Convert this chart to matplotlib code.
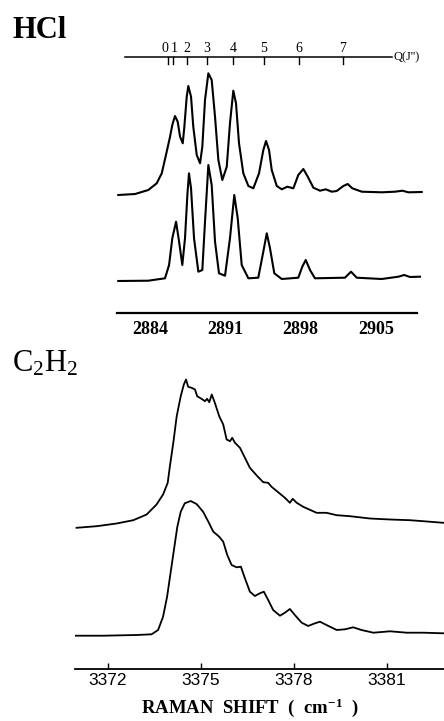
import numpy as np
import matplotlib
matplotlib.use("Agg")
import matplotlib.pyplot as plt

plt.rcParams['mathtext.default'] = 'regular'

# HCl Q-branch, Raman shift (cm-1) and intensity (arb. units)
hcl_top_x = [2881.05, 2882.61, 2883.84, 2884.62, 2885.09, 2885.55, 2885.86, 2886.07, 2886.32, 2886.57,
             2886.79, 2887.04, 2887.19, 2887.41, 2887.56, 2887.81, 2888.02, 2888.34, 2888.65, 2888.86,
             2889.11, 2889.42, 2889.73, 2890.04, 2890.35, 2890.72, 2891.13, 2891.43, 2891.74, 2891.99,
             2892.27, 2892.67, 2893.14, 2893.60, 2894.13, 2894.53, 2894.78, 2895.06, 2895.31, 2895.78,
             2896.24, 2896.76, 2897.32, 2897.78, 2898.25, 2898.66, 2899.18, 2899.80, 2900.33, 2900.89,
             2901.35, 2901.97, 2902.37, 2902.80, 2903.68, 2905.53, 2906.77, 2907.45, 2908.01, 2909.25]
hcl_top_y = [0, 1, 5, 11.7, 21.7, 43.3, 58.3, 70, 79, 73.3,
             58.3, 51.7, 68.3, 98.3, 109, 98.3, 68.3, 40, 31.7, 48.3,
             95, 121.7, 115, 78.3, 35, 15, 28.3, 71.7, 104.3, 91.7,
             51.7, 21.7, 9, 6.7, 21.7, 45, 54, 45, 25, 9,
             5.7, 8.3, 6.7, 20, 26, 18.3, 7.3, 4.3, 5.7, 3.3,
             4, 9, 11, 6.7, 3.3, 2.7, 3.3, 4.3, 2.7, 3]

hcl_bot_x = [2881.05, 2883.84, 2885.39, 2885.77, 2886.07, 2886.42, 2886.70, 2887.00, 2887.25, 2887.47,
             2887.62, 2887.81, 2888.09, 2888.49, 2888.86, 2889.11, 2889.42, 2889.73, 2890.04, 2890.41,
             2890.97, 2891.43, 2891.83, 2892.15, 2892.52, 2893.14, 2894.06, 2894.47, 2894.85, 2895.15,
             2895.55, 2896.24, 2897.78, 2898.15, 2898.47, 2898.87, 2899.33, 2902.12, 2902.68, 2903.21,
             2905.53, 2907.08, 2907.63, 2908.16, 2909.09]
hcl_bot_y = [0, 0.3, 2.7, 16, 42.7, 59.3, 39.3, 16, 42.7, 86,
             107.7, 92.7, 42.7, 9.3, 11, 59.3, 116, 96, 39.3, 7.7,
             5.3, 42.7, 86, 62.7, 16, 2.7, 3.3, 26, 47.7, 32.7,
             7.7, 2, 3.3, 14.3, 21, 11, 2.7, 3.3, 9.3, 3.3,
             2, 4.3, 6, 4, 4.3]

q_labels = ["0", "1", "2", "3", "4", "5", "6", "7"]
q_pos = [2885.67, 2886.14, 2887.44, 2889.30, 2891.71, 2894.59, 2897.85, 2901.94]
hcl_ticks = [2884, 2891, 2898, 2905]

# C2H2
c2h2_top_x = [3370.99, 3371.64, 3372.28, 3372.82, 3373.25, 3373.57, 3373.78, 3373.93, 3374.00, 3374.11,
              3374.22, 3374.35, 3374.45, 3374.52, 3374.59, 3374.70, 3374.81, 3374.88, 3375.02, 3375.13,
              3375.20, 3375.27, 3375.35, 3375.45, 3375.59, 3375.72, 3375.83, 3375.94, 3376.01, 3376.10,
              3376.26, 3376.42, 3376.58, 3376.80, 3377.01, 3377.17, 3377.28, 3377.49, 3377.71, 3377.87,
              3377.96, 3378.09, 3378.30, 3378.73, 3379.05, 3379.38, 3379.81, 3380.45, 3381.10, 3381.74,
              3382.17, 3382.82]
c2h2_top_y = [0.2, 1.8, 4.5, 7.8, 13.5, 23.5, 33.5, 45.2, 61.8, 85.2,
              111.8, 131.8, 143.5, 148.5, 141.2, 140.2, 138.5, 131.8, 129.2, 126.8,
              129.2, 125.8, 133.5, 125.2, 111.8, 103.5, 88.5, 86.8, 90.2, 85.2,
              80.2, 70.2, 60.2, 52.5, 45.8, 45.2, 41.2, 35.8, 30.2, 25.2,
              29.2, 25.2, 21.2, 15.2, 15.2, 12.8, 11.8, 9.5, 8.5, 7.8,
              6.8, 5.2]

c2h2_bot_x = [3370.94, 3371.85, 3372.93, 3373.41, 3373.62, 3373.78, 3373.91, 3374.02, 3374.13, 3374.24,
              3374.35, 3374.48, 3374.67, 3374.86, 3375.07, 3375.24, 3375.40, 3375.59, 3375.72, 3375.85,
              3375.99, 3376.15, 3376.29, 3376.42, 3376.58, 3376.74, 3376.90, 3377.03, 3377.17, 3377.33,
              3377.55, 3377.71, 3377.87, 3378.03, 3378.25, 3378.46, 3378.68, 3378.84, 3379.05, 3379.38,
              3379.65, 3379.91, 3380.18, 3380.56, 3381.10, 3381.64, 3382.17, 3382.82]
c2h2_bot_y = [0.3, 0.3, 1, 1.7, 6, 19.3, 39.3, 62.7, 86, 109.3,
              124.3, 132.7, 135, 132, 124.3, 114.3, 104.3, 99.3, 94.3, 81,
              71, 68.7, 69.3, 57.7, 44.3, 40, 42.7, 44.3, 36, 26,
              20.3, 23.3, 27, 21, 13.3, 10, 12.7, 14.3, 11, 6,
              6.7, 8.7, 6, 3.3, 4.7, 3.3, 3.3, 2.7]
c2h2_ticks = [3372, 3375, 3378, 3381]

W, H = 444, 721
fig = plt.figure(figsize=(W / 100, H / 100), dpi=100)

def box(l, t, r, b):
    return [l / W, 1 - b / H, (r - l) / W, (b - t) / H]

# ---- HCl panel
ax1 = fig.add_axes(box(117, 57, 423, 313))
ax1.plot(hcl_top_x, np.array(hcl_top_y) + 118, color="black", lw=1.5, solid_joinstyle="round")
ax1.plot(hcl_bot_x, np.array(hcl_bot_y) + 32, color="black", lw=1.5, solid_joinstyle="round")
ax1.set_xlim(2880.93, 2909.37)
ax1.set_ylim(0, 256)
for s in ["top", "left", "right"]:
    ax1.spines[s].set_visible(False)
ax1.spines["bottom"].set_linewidth(1.6)
ax1.spines["bottom"].set_bounds(2880.93, 2908.8)
ax1.set_yticks([])
ax1.set_xticks(hcl_ticks)
ax1.tick_params(axis="x", length=0, pad=6)
for lab in ax1.get_xticklabels():
    lab.set_fontfamily("Liberation Serif")
    lab.set_fontweight("bold")
    lab.set_fontsize(13)

# Q(J'') scale on top; 0 and 1 are nudged apart so they sit side by side
ax1.plot([2881.68, 2906.49], [256, 256], color="black", lw=1.1, clip_on=False)
nudge = {"0": (-2.5, "right"), "1": (-1.5, "left")}
for p, lab in zip(q_pos, q_labels):
    ax1.plot([p, p], [256, 249], color="black", lw=1.0, clip_on=False)
    dx, ha = nudge.get(lab, (0, "center"))
    ax1.annotate(lab, (p, 258), xytext=(dx + (2.5 if lab == "0" else 0), 0),
                 textcoords="offset points", ha=ha, va="bottom", fontsize=10,
                 family="Liberation Serif", annotation_clip=False)
ax1.text(2906.6, 256, "Q(J'')", ha="left", va="center", fontsize=9,
         family="Liberation Serif", clip_on=False)

fig.text(12 / W, 1 - 31 / H, "HCl", ha="left", va="center", fontsize=22,
         family="Liberation Serif", weight="bold")

# ---- C2H2 panel
ax2 = fig.add_axes(box(75, 370, 444, 669))
ax2.plot(c2h2_top_x, np.array(c2h2_top_y) + 141, color="black", lw=1.3, solid_joinstyle="round")
ax2.plot(c2h2_bot_x, np.array(c2h2_bot_y) + 33, color="black", lw=1.3, solid_joinstyle="round")
ax2.set_xlim(3370.94, 3382.84)
ax2.set_ylim(0, 299)
for s in ["top", "left", "right"]:
    ax2.spines[s].set_visible(False)
ax2.spines["bottom"].set_linewidth(1.3)
ax2.set_yticks([])
ax2.set_xticks(c2h2_ticks)
ax2.tick_params(axis="x", direction="in", length=4, width=1, pad=3)
for lab in ax2.get_xticklabels():
    lab.set_fontfamily("Liberation Sans")
    lab.set_fontsize(12.5)

fig.text(12 / W, 1 - 364 / H, "C$_2$H$_2$", ha="left", va="center", fontsize=22,
         family="Liberation Serif")
fig.text(250 / W, 1 - 708 / H, "RAMAN  SHIFT  (  cm$^{-1}$  )", ha="center", va="center",
         fontsize=13.5, family="Liberation Serif", weight="bold")

fig.savefig("out.png", dpi=100)
